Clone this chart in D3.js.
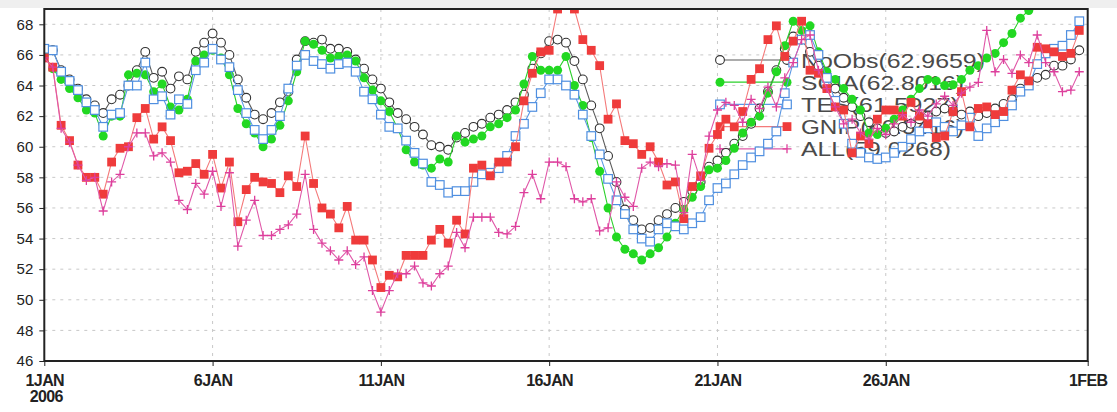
<!DOCTYPE html>
<html>
<head>
<meta charset="utf-8">
<script src="https://cdn.jsdelivr.net/npm/d3@7"></script>
<style>
  body { margin: 0; background: #fff; }
  svg { display: block; }
</style>
</head>
<body>
<svg id="chart" width="1117" height="412"></svg>
<script>
// ---- data: 6-hourly series, 1 Jan 2006 00Z onward ----
const seriesNames = ["NoObs", "SCIA", "TES", "GNIP", "ALL"];
const legendLabels = ["NoObs(62.9659)", "SCIA(62.8016)", "TES(61.5927)", "GNIP(60.5416)", "ALL(59.0268)"];
const tickDates = ["2006-01-01", "2006-01-06", "2006-01-11", "2006-01-16", "2006-01-21", "2006-01-26", "2006-02-01"];
const tickLabels = ["1JAN", "6JAN", "11JAN", "16JAN", "21JAN", "26JAN", "1FEB"];
const yearLabel = "2006";
const yTicks = [46, 48, 50, 52, 54, 56, 58, 60, 62, 64, 66, 68];

const noObs = [66.3,66.3,65.0,64.4,63.8,63.1,62.7,62.2,63.1,63.4,
  64.0,65.0,66.2,64.5,64.9,63.8,64.6,64.4,66.2,66.8,
  67.4,66.8,66.0,64.4,63.2,62.1,61.8,62.2,62.9,63.6,
  65.7,66.9,66.8,67.0,66.4,66.4,66.2,65.7,65.1,64.4,
  63.8,62.9,62.2,61.8,61.3,60.8,60.1,60.0,59.8,60.6,
  60.9,61.3,61.5,61.9,62.1,62.4,62.9,63.4,65.1,66.1,
  66.9,67.0,66.8,65.6,64.4,62.7,61.2,59.4,57.7,55.9,
  55.2,54.6,54.7,55.2,55.6,56.0,56.4,57.1,57.7,58.7,
  59.1,59.6,60.2,60.7,61.5,62.5,63.6,65.0,66.4,67.2,
  67.0,66.2,65.3,64.5,63.8,63.2,62.6,62.0,61.6,61.2,
  60.9,61.0,61.3,61.5,61.8,62.0,62.3,62.5,62.3,62.1,
  62.3,62.0,62.2,62.5,62.8,63.1,63.8,64.2,64.5,64.7,
  65.3,65.3,65.7,66.3];

const scia = [66.0,65.1,64.4,63.8,63.2,62.4,62.2,60.7,62.0,62.0,
  64.7,64.8,64.7,63.6,64.1,62.6,62.4,63.1,65.6,66.0,
  66.3,65.8,64.7,62.5,61.5,60.9,60.0,60.5,61.4,63.0,
  64.9,66.9,66.7,66.3,65.8,65.9,66.0,65.6,64.5,63.7,
  63.0,62.3,61.2,59.8,59.0,58.8,58.6,59.2,59.0,60.7,
  60.3,60.5,60.7,61.3,61.5,61.9,62.4,64.1,65.9,65.0,
  65.0,65.0,65.9,64.0,62.7,60.6,58.4,56.0,54.1,53.3,
  53.0,52.6,53.0,53.4,54.1,55.0,55.9,56.7,57.4,58.5,
  58.6,59.1,59.9,60.9,61.6,62.0,63.5,64.9,66.6,68.2,
  67.6,67.9,66.2,64.9,64.4,63.8,63.1,62.4,60.9,60.8,
  61.2,61.8,62.4,63.1,63.8,64.4,64.3,64.0,64.05,64.4,
  65.0,65.3,65.8,66.1,66.8,67.4,68.4,68.9,69.3,69.8,
  70.2,70.5,70.8,71.0];

const tes = [66.4,66.3,64.9,64.3,63.7,62.9,62.4,61.3,62.1,62.2,
  64.0,64.0,65.5,63.1,63.3,62.1,63.1,62.8,65.0,65.5,
  66.4,65.7,65.2,63.7,62.2,61.1,60.5,61.1,62.0,63.8,
  65.3,66.0,65.6,65.4,65.1,65.4,65.5,64.9,63.6,63.1,
  62.1,61.3,61.2,60.4,59.6,58.9,57.7,57.5,57.0,57.1,
  57.1,57.7,58.2,58.3,58.6,59.4,60.7,61.5,62.6,63.5,
  64.4,64.4,64.0,63.4,62.1,60.7,59.5,57.9,56.5,55.6,
  54.6,54.0,53.8,54.6,55.0,54.8,54.6,55.0,55.4,56.5,
  57.3,57.6,58.2,58.8,59.3,59.7,60.2,61.0,63.5,65.5,
  67.0,67.3,66.0,64.5,63.0,61.5,60.2,59.6,59.3,59.2,
  59.3,59.6,60.0,60.5,61.0,61.2,61.6,61.3,61.0,61.4,
  61.9,60.7,61.2,61.6,62.0,62.7,63.6,64.0,65.4,66.1,
  66.4,66.6,67.3,68.2];

const gnip = [65.8,65.2,61.4,60.4,58.8,58.0,58.0,56.9,59.0,59.9,
  60.0,61.9,62.5,60.5,61.3,60.4,58.3,58.4,58.9,58.2,
  59.5,57.3,59.0,55.1,57.2,58.0,57.7,57.6,57.0,58.1,
  57.4,60.7,57.6,56.0,55.6,54.7,56.1,53.9,53.9,52.6,
  50.8,51.6,51.5,52.9,52.9,52.9,53.9,54.6,53.7,55.2,
  54.3,58.6,58.8,58.1,59.0,59.0,60.0,63.0,64.8,66.2,
  66.3,69.0,69.8,69.0,67.0,66.3,65.3,61.8,62.8,60.4,
  60.2,59.5,60.0,59.0,57.5,57.7,55.3,57.4,58.1,59.9,
  60.8,61.8,61.3,62.3,64.4,65.1,67.0,67.9,65.9,66.9,
  68.2,65.0,64.8,63.8,62.6,62.4,59.6,60.7,60.2,61.8,
  62.4,62.4,62.0,62.9,62.0,61.5,60.6,60.7,62.3,63.6,
  61.3,62.5,62.6,62.1,62.3,63.7,64.7,64.3,66.5,66.4,
  66.2,65.9,66.1,67.6];

const all = [65.8,65.2,61.2,60.3,58.8,57.8,58.0,55.8,57.7,58.2,
  60.0,60.9,60.9,59.4,59.6,59.0,56.5,55.9,57.6,56.9,
  58.4,56.1,58.3,53.5,55.2,56.5,54.2,54.2,54.6,54.9,
  55.6,58.2,54.6,53.7,53.2,52.6,53.2,52.3,52.8,50.6,
  49.2,50.6,51.7,51.7,52.2,51.1,50.9,51.7,52.2,54.4,
  53.4,55.4,55.4,55.4,54.4,54.3,54.8,57.0,58.2,56.6,
  59.0,59.0,58.7,56.6,56.4,56.6,54.5,54.7,57.7,56.7,
  56.1,58.6,59.0,58.7,58.9,58.8,55.7,59.5,57.8,60.7,
  62.4,62.9,62.7,61.6,63.1,62.5,63.9,62.6,64.5,65.5,
  67.0,67.3,65.0,63.8,62.6,61.5,61.8,60.9,60.5,61.2,
  60.8,61.5,62.1,61.6,62.4,62.0,62.8,63.3,62.7,63.5,
  63.9,64.2,67.6,64.9,65.7,64.8,66.0,65.5,67.3,65.5,
  64.9,63.6,63.7,64.9];

// ---- layout ----
const W = 1117;
const plot = { left: 44.3, right: 1087.7, top: 9, bottom: 361 };
const stepMs = 6 * 3600 * 1000;
const t0 = Date.UTC(2006, 0, 1);
const fontFamily = "Liberation Sans, Arial, sans-serif";

const styles = [
  { line: "#5a5a5a", marker: "circle" },
  { line: "#2bd02b", marker: "dot" },
  { line: "#5b98e4", marker: "square" },
  { line: "#f47a7a", marker: "fsquare" },
  { line: "#e058a8", marker: "plus" }
];
const seriesValues = [noObs, scia, tes, gnip, all];

const svg = d3.select("#chart");
const x = d3.scaleUtc()
  .domain([new Date(t0), new Date(Date.UTC(2006, 1, 1))])
  .range([plot.left, plot.right]);
const y = d3.scaleLinear().domain([46, 69]).range([plot.bottom, plot.top]);

// faint band above the frame
svg.append("rect").attr("x", 0).attr("y", 0).attr("width", W).attr("height", 8).attr("fill", "#efefef");

// dotted grid at the labelled ticks
const grid = svg.append("g").attr("stroke", "#c8c8c8").attr("stroke-width", 1).attr("stroke-dasharray", "3,5");
grid.selectAll("line.h").data(yTicks.filter(v => v > 46)).join("line")
  .attr("x1", plot.left).attr("x2", plot.right)
  .attr("y1", d => y(d)).attr("y2", d => y(d));
grid.selectAll("line.v").data(tickDates.slice(1, -1)).join("line")
  .attr("x1", d => x(new Date(d))).attr("x2", d => x(new Date(d)))
  .attr("y1", plot.top).attr("y2", plot.bottom);

// axes
const yAxis = svg.append("g").attr("transform", `translate(${plot.left},0)`)
  .call(d3.axisLeft(y).tickValues(yTicks).tickSize(5).tickPadding(6).tickFormat(d3.format("d")));
yAxis.select(".domain").remove();
yAxis.selectAll("line").attr("stroke", "#222");
yAxis.selectAll("text").attr("font-family", fontFamily).attr("font-size", 15).attr("fill", "#222");

const xAxis = svg.append("g").attr("transform", `translate(0,${plot.bottom})`)
  .call(d3.axisBottom(x).tickValues(tickDates.map(d => new Date(d))).tickSize(5).tickPadding(6)
    .tickFormat((d, i) => tickLabels[i]));
xAxis.select(".domain").remove();
xAxis.selectAll("line").attr("stroke", "#222");
xAxis.selectAll("text").attr("font-family", fontFamily)
  .attr("font-size", 16).attr("font-weight", "bold").attr("fill", "#222")
  .attr("letter-spacing", "-0.6").attr("dy", "0.9em");
svg.append("text").attr("x", x(new Date(tickDates[0])) + 2).attr("y", 401.5)
  .attr("text-anchor", "middle").attr("font-family", fontFamily)
  .attr("font-size", 16).attr("font-weight", "bold").attr("fill", "#222").attr("letter-spacing", "-0.6")
  .text(yearLabel);

// marker painter
function drawMarker(g, kind) {
  if (kind === "circle") {
    g.append("circle").attr("r", 4.4).attr("fill", "#fff").attr("stroke", "#333").attr("stroke-width", 1.1);
  } else if (kind === "dot") {
    g.append("circle").attr("r", 4.5).attr("fill", "#22d822");
  } else if (kind === "square") {
    g.append("rect").attr("x", -4.3).attr("y", -4.3).attr("width", 8.6).attr("height", 8.6)
      .attr("fill", "#fff").attr("stroke", "#4f8fe0").attr("stroke-width", 1.2);
  } else if (kind === "fsquare") {
    g.append("rect").attr("x", -4.4).attr("y", -4.4).attr("width", 8.8).attr("height", 8.8)
      .attr("fill", "#ef3b3b");
  } else if (kind === "plus") {
    g.append("path").attr("d", "M-4.5,0H4.5M0,-4.5V4.5").attr("stroke", "#dd3f9c").attr("stroke-width", 1.3);
  }
}

// legend (drawn beneath the series)
const legend = svg.append("g");
const legendRow0 = 60, legendGap = 22.2;
const legendTextWidths = [184, 163, 158, 163, 150];
legendLabels.forEach((lab, k) => {
  const ly = legendRow0 + k * legendGap;
  legend.append("line").attr("x1", 720).attr("x2", 787).attr("y1", ly).attr("y2", ly)
    .attr("stroke", styles[k].line).attr("stroke-width", 1.2);
  [720, 787].forEach(px => drawMarker(legend.append("g").attr("transform", `translate(${px},${ly})`), styles[k].marker));
  legend.append("text").attr("x", 801).attr("y", ly + 7.5)
    .attr("font-family", fontFamily).attr("font-size", 21)
    .attr("fill", "#4a4a4a").attr("textLength", legendTextWidths[k]).attr("lengthAdjust", "spacingAndGlyphs")
    .text(lab);
});

// series, clipped to the frame
svg.append("clipPath").attr("id", "plotClip").append("rect")
  .attr("x", plot.left).attr("y", plot.top).attr("width", plot.right - plot.left).attr("height", plot.bottom - plot.top);
const seriesLayer = svg.append("g").attr("clip-path", "url(#plotClip)");
const xAt = i => x(new Date(t0 + i * stepMs));
const line = d3.line().x((d, i) => xAt(i)).y(d => y(d));

seriesValues.forEach((vals, k) => {
  const g = seriesLayer.append("g").attr("class", "series-" + seriesNames[k]);
  g.append("path").attr("d", line(vals)).attr("fill", "none")
    .attr("stroke", styles[k].line).attr("stroke-width", 1.1);
  vals.forEach((v, i) => {
    drawMarker(g.append("g").attr("transform", `translate(${xAt(i)},${y(v)})`), styles[k].marker);
  });
});

// frame
svg.append("rect").attr("x", plot.left).attr("y", plot.top)
  .attr("width", plot.right - plot.left).attr("height", plot.bottom - plot.top)
  .attr("fill", "none").attr("stroke", "#222").attr("stroke-width", 2);
</script>
</body>
</html>
